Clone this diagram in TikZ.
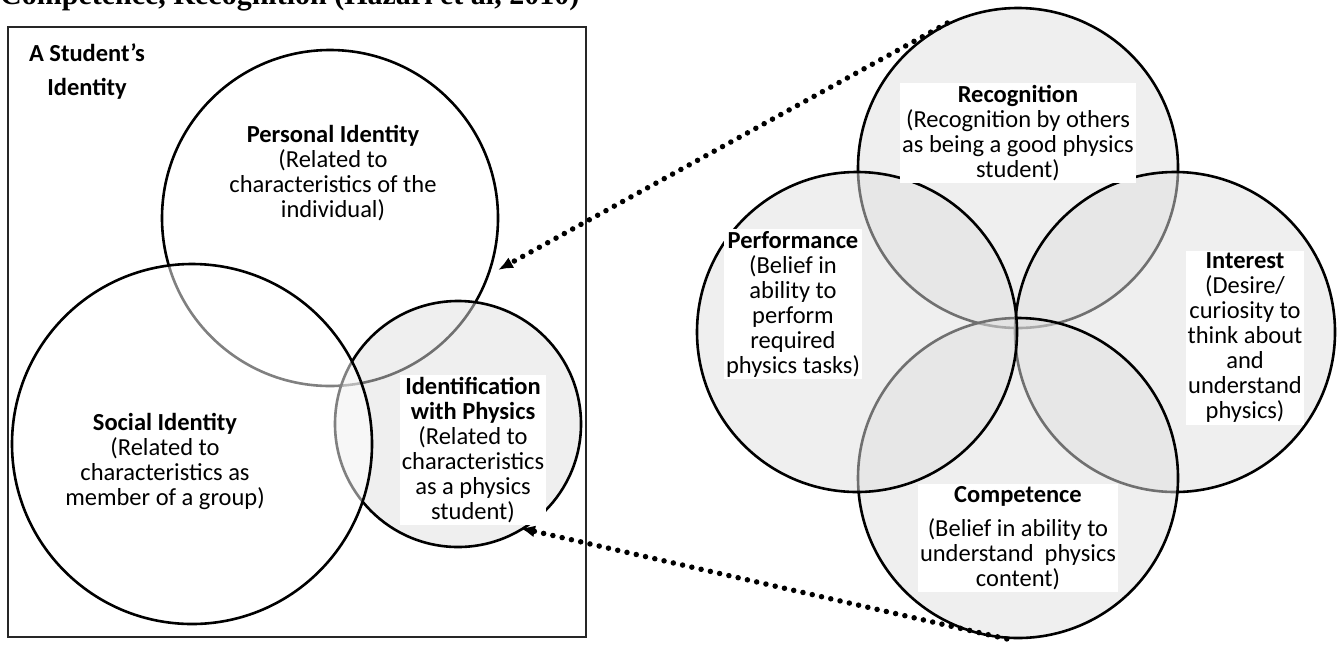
\documentclass[tikz,border=0pt]{standalone}
\usepackage{fontspec}
\setmainfont{Carlito}
\newfontfamily\titlefont{Liberation Serif}
\usetikzlibrary{arrows.meta,positioning}

\begin{document}
\begin{tikzpicture}[
    x=1pt, y=-1pt,
    venn/.style={circle, draw, line width=2.6pt, inner sep=0pt, minimum size=#1},
    whitevenn/.style={venn=#1, fill=white, fill opacity=0.5},
    greyvenn/.style={venn=#1, fill=black!12, fill opacity=0.5},
    vennlabel/.style={align=center, fill=white, inner sep=2pt, font=\fontsize{24.5}{25}\selectfont},
    dotlink/.style={line width=5.5pt, dash pattern=on 0pt off 9.5pt, line cap=round, -{Latex[length=15pt,width=12pt]}}
  ]
    \useasboundingbox (0,0) rectangle (1337,646);
    \fill[white] (0,0) rectangle (1337,646);
    \node[anchor=base west, inner sep=0pt, font=\titlefont\bfseries\fontsize{30}{32}\selectfont] (heading) at (0,4) {Competence, Recognition (Hazari et al, 2010)};

    % student's identity
    \draw[line width=2pt, black!85] (8,27) rectangle (586,637);
    \node[align=center, inner sep=0pt, font=\bfseries\fontsize{24.5}{34}\selectfont] (student) at (87,72) {A Student’s\\Identity};
    \node[whitevenn=336pt] (personal) at (330,218) {};
    \node[greyvenn=246pt] (ident) at (458,424) {};
    \node[whitevenn=360pt] (social) at (192,444) {};
    \node[vennlabel] (personaltxt) at (333,173) {\textbf{Personal Identity}\\(Related to\\characteristics of the\\individual)};
    \node[vennlabel] (socialtxt) at (165,461) {\textbf{Social Identity}\\(Related to\\characteristics as\\member of a group)};
    \node[vennlabel] (identtxt) at (473,450) {\textbf{Identification}\\\textbf{with Physics}\\(Related to\\characteristics\\as a physics\\student)};

    % identification with physics
    \node[greyvenn=320pt] (recog) at (1018,168) {};
    \node[greyvenn=320pt] (interest) at (1175,332) {};
    \node[greyvenn=320pt] (compet) at (1018,478) {};
    \node[greyvenn=320pt] (perf) at (857,332) {};
    \node[vennlabel] (recogtxt) at (1018,133) {\textbf{Recognition}\\(Recognition by others\\as being a good physics\\student)};
    \node[vennlabel] (perftxt) at (793,304) {\textbf{Performance}\\(Belief in\\ability to\\perform\\required\\physics tasks)};
    \node[vennlabel] (interesttxt) at (1245,338) {\textbf{Interest}\\(Desire/\\curiosity to\\think about\\and\\understand\\physics)};
    \node[vennlabel] (competxt) at (1018,538) {\textbf{Competence}\\[9pt](Belief in ability to\\understand\ \ physics\\content)};

    \coordinate (identup) at (498,270);
    \coordinate (identlow) at (520,528);
    \draw[dotlink] (recog.116) -- (identup);
    \draw[dotlink] (compet.266) -- (identlow);
\end{tikzpicture}
\end{document}
